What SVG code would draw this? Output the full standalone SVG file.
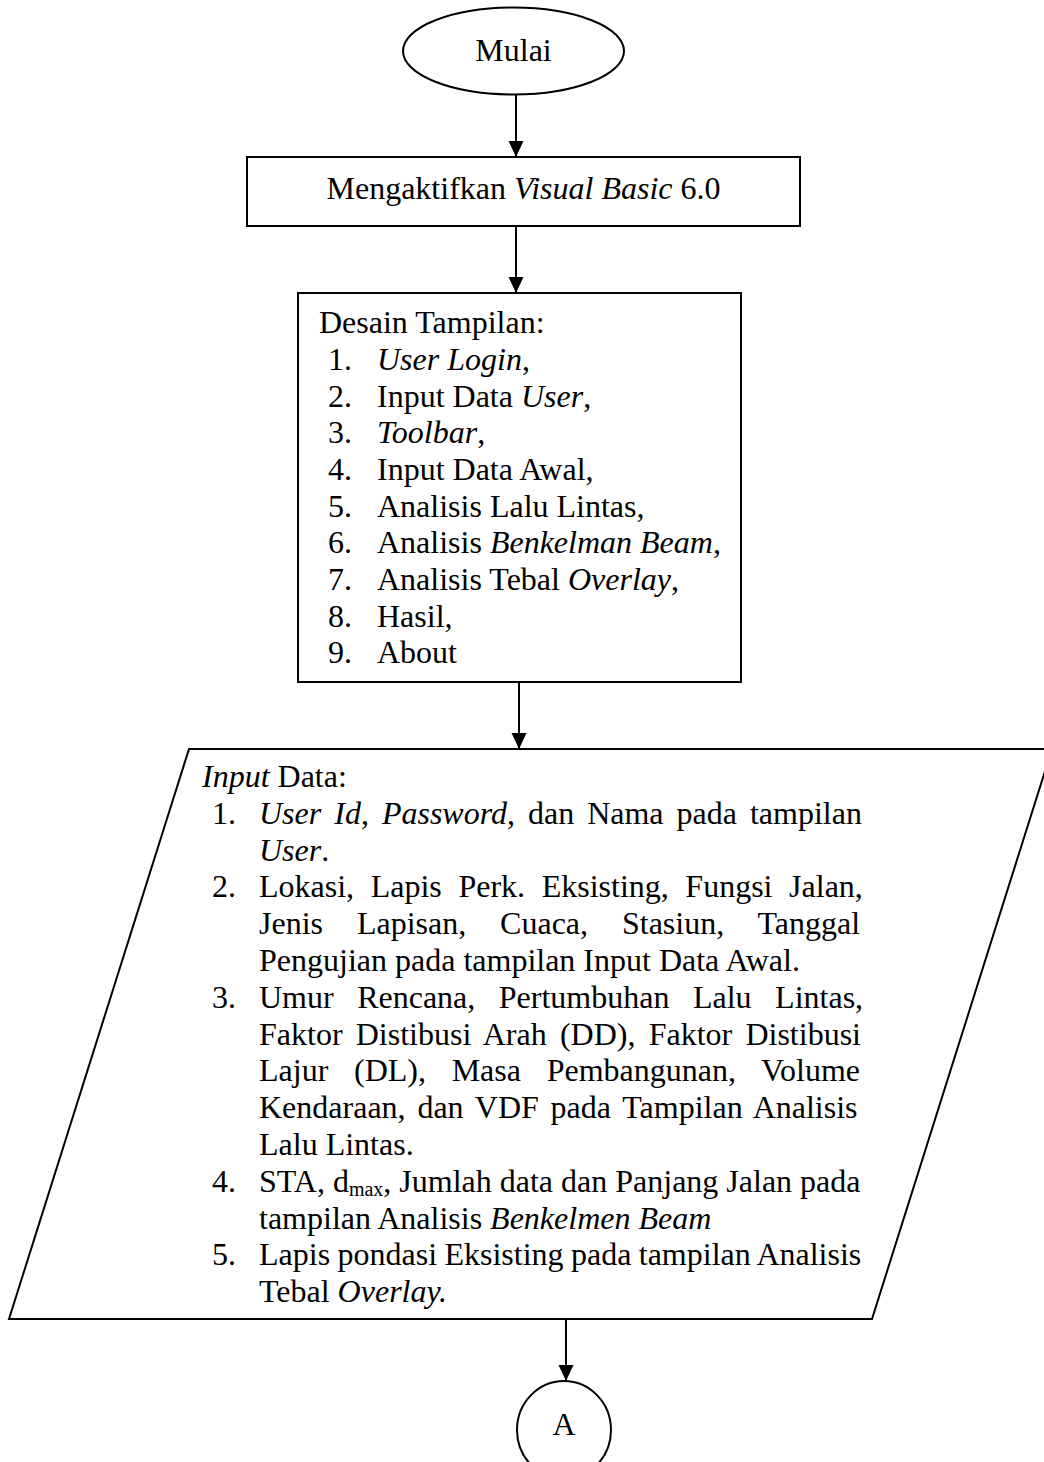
<svg xmlns="http://www.w3.org/2000/svg" width="1044" height="1462" viewBox="0 0 1044 1462">
  <style>
    .shape { fill: #ffffff; stroke: #000000; stroke-width: 2; }
    .conn { fill: none; stroke: #000000; stroke-width: 2; }
    text { font-family: "Liberation Serif", "Times New Roman", serif; font-size: 32px; fill: #000000; }
    .it { font-style: italic; }
    .sub { font-size: 20px; }
  </style>
  <defs>
    <marker id="arrow" markerUnits="userSpaceOnUse" markerWidth="16" markerHeight="16" refX="16" refY="7.5" orient="auto">
      <path d="M0,0 L16,7.5 L0,15 z" fill="#000000"/>
    </marker>
  </defs>
  <rect x="0" y="0" width="1044" height="1462" fill="#ffffff"/>

  <g id="node-mulai">
    <ellipse class="shape" cx="513.5" cy="51" rx="110.5" ry="43.5"/>
    <text x="513.5" y="61" text-anchor="middle">Mulai</text>
  </g>

  <g id="node-vb">
    <rect class="shape" x="247" y="157" width="553" height="69"/>
    <text x="523.5" y="199" text-anchor="middle">Mengaktifkan <tspan class="it">Visual Basic</tspan> 6.0</text>
  </g>

  <g id="node-desain">
    <rect class="shape" x="298" y="293" width="443" height="389"/>
    <text x="319" y="333">Desain Tampilan:</text>
    <text x="328" y="370">1.</text><text x="377" y="370"><tspan class="it">User Login</tspan>,</text>
    <text x="328" y="407">2.</text><text x="377" y="407">Input Data <tspan class="it">User</tspan>,</text>
    <text x="328" y="443">3.</text><text x="377" y="443"><tspan class="it">Toolbar</tspan>,</text>
    <text x="328" y="480">4.</text><text x="377" y="480">Input Data Awal,</text>
    <text x="328" y="517">5.</text><text x="377" y="517">Analisis Lalu Lintas,</text>
    <text x="328" y="553">6.</text><text x="377" y="553">Analisis <tspan class="it">Benkelman Beam</tspan>,</text>
    <text x="328" y="590">7.</text><text x="377" y="590">Analisis Tebal <tspan class="it">Overlay</tspan>,</text>
    <text x="328" y="627">8.</text><text x="377" y="627">Hasil,</text>
    <text x="328" y="663">9.</text><text x="377" y="663">About</text>
  </g>

  <g id="node-input">
    <polygon class="shape" points="189,749 1052,749 872,1319 9,1319"/>
    <text x="202" y="787"><tspan class="it">Input</tspan> Data:</text>
    <text x="212" y="824">1.</text>
    <text x="259" y="824" word-spacing="5"><tspan class="it">User Id</tspan>, <tspan class="it">Password</tspan>, dan Nama pada tampilan</text>
    <text x="259" y="861"><tspan class="it">User</tspan>.</text>
    <text x="212" y="897">2.</text>
    <text x="259" y="897" word-spacing="8.6">Lokasi, Lapis Perk. Eksisting, Fungsi Jalan,</text>
    <text x="259" y="934" word-spacing="25.9">Jenis Lapisan, Cuaca, Stasiun, Tanggal</text>
    <text x="259" y="971">Pengujian pada tampilan Input Data Awal.</text>
    <text x="212" y="1008">3.</text>
    <text x="259" y="1008" word-spacing="15.5">Umur Rencana, Pertumbuhan Lalu Lintas,</text>
    <text x="259" y="1045" word-spacing="5.2">Faktor Distibusi Arah (DD), Faktor Distibusi</text>
    <text x="259" y="1081" word-spacing="17.7">Lajur (DL), Masa Pembangunan, Volume</text>
    <text x="259" y="1118" word-spacing="3.8">Kendaraan, dan VDF pada Tampilan Analisis</text>
    <text x="259" y="1155">Lalu Lintas.</text>
    <text x="212" y="1192">4.</text>
    <text x="259" y="1192">STA, d<tspan class="sub" dy="4">max</tspan><tspan dy="-4">, Jumlah data dan Panjang Jalan pada</tspan></text>
    <text x="259" y="1229">tampilan Analisis <tspan class="it">Benkelmen Beam</tspan></text>
    <text x="212" y="1265">5.</text>
    <text x="259" y="1265" word-spacing="-0.6">Lapis pondasi Eksisting pada tampilan Analisis</text>
    <text x="259" y="1302">Tebal <tspan class="it">Overlay.</tspan></text>
  </g>

  <g id="node-a">
    <ellipse class="shape" cx="564" cy="1430" rx="47" ry="49"/>
    <text x="564" y="1435" text-anchor="middle">A</text>
  </g>

  <g id="connectors">
    <line class="conn" x1="516" y1="94.5" x2="516" y2="157" marker-end="url(#arrow)"/>
    <line class="conn" x1="516" y1="226" x2="516" y2="293" marker-end="url(#arrow)"/>
    <line class="conn" x1="519" y1="682" x2="519" y2="749" marker-end="url(#arrow)"/>
    <line class="conn" x1="566" y1="1319" x2="566" y2="1381" marker-end="url(#arrow)"/>
  </g>
</svg>
